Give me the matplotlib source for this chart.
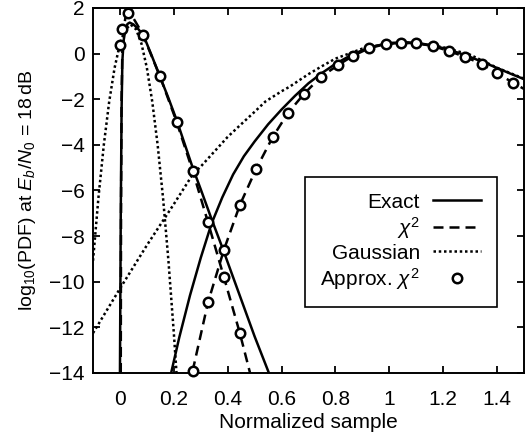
import matplotlib
matplotlib.use("Agg")
import matplotlib.pyplot as plt
from matplotlib.ticker import FuncFormatter, FixedLocator

plt.rcParams['font.family'] = ['Liberation Sans', 'DejaVu Sans']
plt.rcParams['mathtext.fontset'] = 'custom'
plt.rcParams['mathtext.rm'] = 'Liberation Sans'
plt.rcParams['mathtext.it'] = 'Liberation Sans:italic'
plt.rcParams['mathtext.bf'] = 'Liberation Sans:bold'

# ---- data ----
# Exact PDF, bit 0
exact0_x = [0.0, 0.003, 0.006, 0.009, 0.014, 0.02, 0.028, 0.036, 0.05, 0.07, 0.09,
            0.12, 0.15, 0.18, 0.21, 0.24, 0.27, 0.30, 0.34, 0.38, 0.42, 0.46, 0.50, 0.553]
exact0_y = [-14, -7, -2.5, -0.3, 0.6, 1.05, 1.3, 1.36, 1.28, 1.05, 0.72,
            -0.15, -1.05, -1.95, -2.9, -3.95, -5.0, -5.95, -7.25, -8.5, -9.8, -11.1, -12.4, -14]
# Exact PDF, bit 1
exact1_x = [0.19, 0.22, 0.26, 0.30, 0.34, 0.38, 0.42, 0.46, 0.50, 0.55, 0.60, 0.65, 0.70,
            0.75, 0.80, 0.85, 0.90, 0.95, 1.0, 1.05, 1.1, 1.15, 1.2, 1.25, 1.3, 1.35, 1.4, 1.45, 1.5]
exact1_y = [-14, -12.45, -10.6, -8.95, -7.45, -6.3, -5.3, -4.5, -3.85, -3.1, -2.45, -1.85, -1.3,
            -0.85, -0.45, -0.12, 0.15, 0.34, 0.46, 0.5, 0.47, 0.38, 0.24, 0.06, -0.15, -0.38, -0.63, -0.88, -1.12]
# chi^2 PDF, bit 0
chi0_x = [0.003, 0.004, 0.006, 0.009, 0.014, 0.02, 0.027, 0.035, 0.05, 0.07, 0.086,
          0.148, 0.21, 0.27, 0.327, 0.386, 0.445, 0.483]
chi0_y = [-14, -7, -2.0, 0.2, 1.1, 1.55, 1.72, 1.72, 1.55, 1.15, 0.8,
          -0.98, -2.98, -5.14, -7.4, -9.8, -12.25, -14]
# chi^2 PDF, bit 1
chi1_x = [0.255, 0.27, 0.327, 0.386, 0.445, 0.505, 0.567, 0.624, 0.683, 0.745, 0.81, 0.865,
          0.925, 0.987, 1.043, 1.10, 1.162, 1.22, 1.28, 1.345, 1.40, 1.46, 1.5]
chi1_y = [-14.6, -13.9, -10.9, -8.6, -6.64, -5.07, -3.66, -2.6, -1.77, -1.03, -0.5, -0.1,
          0.24, 0.42, 0.47, 0.46, 0.33, 0.12, -0.14, -0.46, -0.86, -1.28, -1.55]
# Gaussian PDF, bit 0
gauss0_x = [-0.1, -0.08, -0.06, -0.04, -0.02, 0.0, 0.02, 0.04, 0.06, 0.08, 0.10,
            0.12, 0.14, 0.16, 0.18, 0.20, 0.21]
gauss0_y = [-9.08, -6.33, -4.01, -2.11, -0.63, 0.43, 1.06, 1.27, 1.06, 0.43, -0.63,
            -2.11, -4.01, -6.33, -9.08, -12.25, -14.0]
# Gaussian PDF, bit 1
gauss1_x = [-0.1, 0.0, 0.1, 0.2, 0.27, 0.3, 0.4, 0.445, 0.5, 0.54, 0.6, 0.63, 0.668, 0.7,
            0.75, 0.8, 0.9, 1.0, 1.05, 1.1, 1.2, 1.3, 1.4, 1.5]
gauss1_y = [-12.25, -10.3, -8.4, -6.6, -5.3, -4.95, -3.65, -3.15, -2.55, -2.1, -1.65, -1.45, -1.15, -0.9,
            -0.55, -0.22, 0.22, 0.45, 0.48, 0.46, 0.28, -0.05, -0.62, -1.1]
# Approximate chi^2 (markers)
approx_x = [0.0, 0.007, 0.03, 0.086, 0.148, 0.21, 0.27, 0.327, 0.386, 0.445,
            0.27, 0.327, 0.386, 0.445, 0.505, 0.567, 0.624, 0.683, 0.745, 0.81, 0.865,
            0.925, 0.987, 1.043, 1.10, 1.162, 1.22, 1.28, 1.345, 1.40, 1.46]
approx_y = [0.37, 1.1, 1.77, 0.8, -0.98, -2.98, -5.14, -7.4, -9.8, -12.25,
            -13.9, -10.9, -8.6, -6.64, -5.07, -3.66, -2.6, -1.77, -1.03, -0.5, -0.1,
            0.24, 0.42, 0.47, 0.46, 0.33, 0.12, -0.14, -0.46, -0.86, -1.28]

x_ticks = [0, 0.2, 0.4, 0.6, 0.8, 1.0, 1.2, 1.4]
y_ticks = [-14, -12, -10, -8, -6, -4, -2, 0, 2]
labels = ["Exact", r"$\chi^2$", "Gaussian", r"Approx. $\chi^2$"]
xlabel = "Normalized sample"
ylabel = r"log$_{10}$(PDF) at $E_b/N_0$ = 18$\,$dB"

FS = 15

fig = plt.figure(figsize=(5.3, 4.36), dpi=100)
ax = fig.add_axes([0.1755, 0.1445, 0.8132, 0.8372])

lw = 1.8
l1, = ax.plot(exact0_x, exact0_y, color='black', lw=lw, solid_joinstyle='round')
ax.plot(exact1_x, exact1_y, color='black', lw=lw)
l2, = ax.plot(chi0_x, chi0_y, color='black', lw=lw, linestyle=(0, (4.0, 2.4)))
ax.plot(chi1_x, chi1_y, color='black', lw=lw, linestyle=(0, (4.0, 2.4)))
l3, = ax.plot(gauss0_x, gauss0_y, color='black', lw=lw, linestyle=(0, (1.0, 1.1)))
ax.plot(gauss1_x, gauss1_y, color='black', lw=lw, linestyle=(0, (1.0, 1.1)))
l4, = ax.plot(approx_x, approx_y, linestyle='none', marker='o', ms=6.8, mew=1.8,
              mfc='white', mec='black', clip_on=False, zorder=5)

ax.set_xlim(-0.1, 1.5)
ax.set_ylim(-14, 2)
ax.xaxis.set_major_locator(FixedLocator(x_ticks))
ax.yaxis.set_major_locator(FixedLocator(y_ticks))
ax.xaxis.set_major_formatter(FuncFormatter(lambda v, p: ('%g' % v)))
ax.yaxis.set_major_formatter(FuncFormatter(lambda v, p: ('%g' % v).replace('-', '\u2212')))
ax.tick_params(direction='in', length=5, width=1.3, top=True, right=True,
               labelsize=FS)
ax.tick_params(axis='x', pad=12)
ax.tick_params(axis='y', pad=6)
for s in ax.spines.values():
    s.set_linewidth(1.4)

ax.set_xlabel(xlabel, fontsize=FS, labelpad=3)
ax.set_ylabel(ylabel, fontsize=14, labelpad=8)

leg = ax.legend([l1, l2, l3, l4], labels, loc='upper right',
                bbox_to_anchor=(0.937, 0.537), borderaxespad=0,
                markerfirst=False, fontsize=FS, frameon=True, fancybox=False,
                edgecolor='black', framealpha=1, handlelength=2.3,
                handletextpad=0.65, labelspacing=0.15, borderpad=0.75,
                numpoints=1)
leg.get_frame().set_linewidth(1.2)
# right-align legend rows
for vp in leg._legend_box.get_children()[1].get_children():
    vp.align = 'right'
fig.savefig('out.png', dpi=100)
